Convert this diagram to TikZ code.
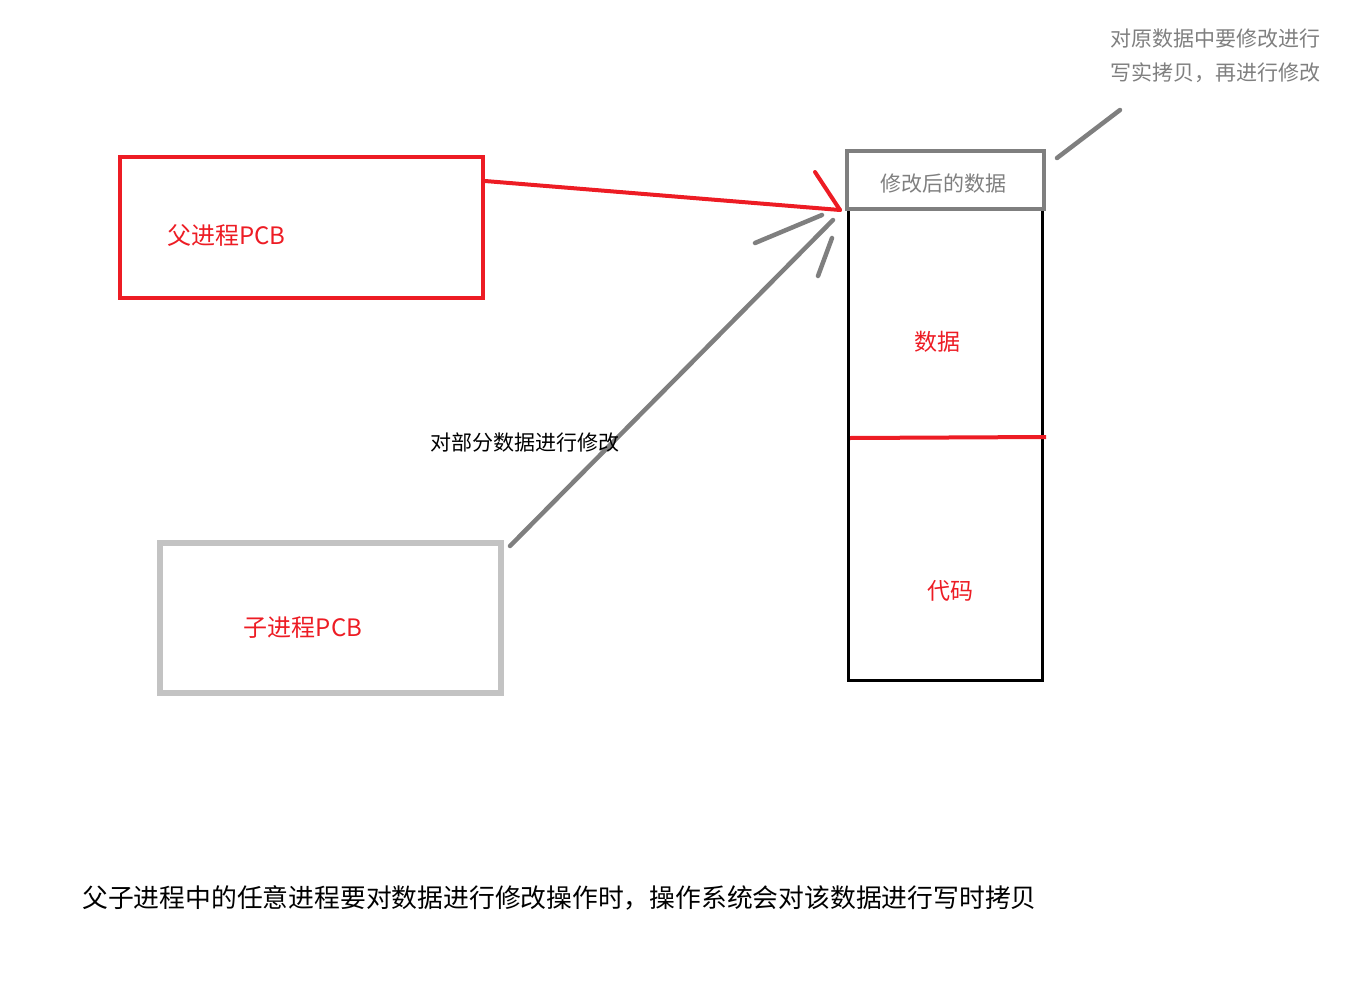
\documentclass[tikz,border=0pt]{standalone}
\usepackage{fontspec}
\setmainfont{Noto Sans CJK SC}
\definecolor{paintred}{HTML}{ED1C24}
\definecolor{paintgray}{HTML}{7F7F7F}
\definecolor{lightgray}{HTML}{C3C3C3}
\tikzset{
  pcbbox/.style={draw,line width=4pt},
  label/.style={inner sep=0pt,font=\fontsize{21}{25}\selectfont},
  stroke/.style={line width=4.5pt,paintgray,line cap=round},
}

\begin{document}
\begin{tikzpicture}[x=1pt,y=-1pt]
  \useasboundingbox (0,0) rectangle (1371,985);
  % process control blocks
  \draw[pcbbox,paintred] (120,157) rectangle (483,298);
  \coordinate (parent) at (485,181);
  \node[label,paintred,anchor=west,font=\fontsize{24}{28}\selectfont] (ptext) at (167,235) {父进程PCB};
  \draw[pcbbox,lightgray,line width=6pt] (160,543) rectangle (501,693);
  \coordinate (child) at (510,546);
  \node[label,paintred,font=\fontsize{24}{28}\selectfont] (ctext) at (303,628) {子进程PCB};
  % memory
  \draw[line width=3pt] (848,208) rectangle (1042,680);
  \draw[pcbbox,paintgray] (847,151) rectangle (1044,209);
  \coordinate (memtop) at (840,210);
  \coordinate (memhit) at (833,220);
  \node[label,paintgray] (newdata) at (943,184) {修改后的数据};
  \draw[line width=4pt,paintred] (850,438) -- (1046,437);
  \node[label,paintred,font=\fontsize{23}{27}\selectfont] (data) at (937,342) {数据};
  \node[label,paintred,font=\fontsize{23}{27}\selectfont] (code) at (950,591) {代码};
  % arrows
  \draw[line width=4pt,paintred,line cap=round] (parent) -- (memtop);
  \draw[line width=4pt,paintred,line cap=round] (815,172) -- (memtop);
  \draw[stroke] (child) -- (memhit);
  \draw[stroke] (755,243) -- (822,215);
  \draw[stroke] (818,276) -- (832,238);
  \node[label] (modify) at (525,443) {对部分数据进行修改};
  % note
  \node[label,paintgray,anchor=north west,align=left,
        font=\fontsize{21}{34}\selectfont] (note) at (1110,29)
        {对原数据中要修改进行\\写实拷贝，再进行修改};
  \coordinate (noteend) at (1120,110);
  \draw[stroke] (1057,158) -- (noteend);
  \node[label,anchor=west,font=\fontsize{25.8}{30}\selectfont] (summary) at (82,898)
        {父子进程中的任意进程要对数据进行修改操作时，操作系统会对该数据进行写时拷贝};
\end{tikzpicture}
\end{document}
